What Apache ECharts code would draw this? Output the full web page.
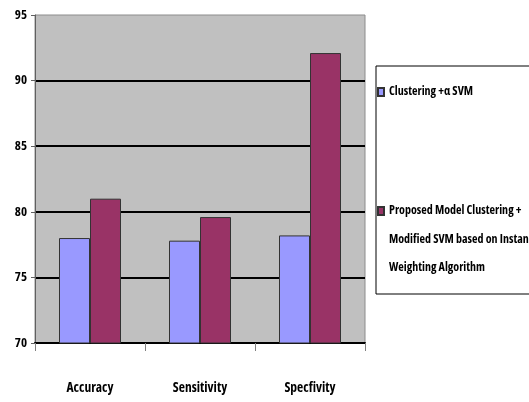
<!DOCTYPE html>
<html>
<head>
<meta charset="utf-8">
<script src="https://cdn.jsdelivr.net/npm/echarts@6/dist/echarts.min.js"></script>
<style>
  html, body { margin: 0; padding: 0; background: #fff; }
  #chart { width: 529px; height: 402px; }
</style>
</head>
<body>
<div id="chart"></div>
<script>
// Evaluation metrics on the x axis
var categories = ['Accuracy', 'Sensitivity', 'Specfivity'];

// Series names and values (%)
var baselineName = 'Clustering +\u03b1 SVM';
var proposedName = 'Proposed Model Clustering +\nModified SVM based on Instance\nWeighting Algorithm';
var baselineValues = [78.0, 77.8, 78.2];
var proposedValues = [81.0, 79.6, 92.1];

// Value axis range
var yMin = 70;
var yMax = 95;
var yStep = 5;

// Narrow bold face: the weight slot also carries the font-stretch keyword
var FONT = '"Open Sans", "DejaVu Sans Condensed", sans-serif';
var WEIGHT = 'bold condensed';
var LINE = 28.5;

var chart = echarts.init(document.getElementById('chart'), null, { renderer: 'canvas' });

chart.setOption({
  backgroundColor: '#ffffff',
  animation: false,
  grid: {
    left: 35,
    right: 164,
    top: 15,
    bottom: 59,
    show: true,
    backgroundColor: '#c0c0c0',
    borderColor: '#8c8c8c',
    borderWidth: 1
  },
  legend: {
    orient: 'vertical',
    left: 376,
    top: 66,
    padding: [19, 0, 11.75, 1],
    itemGap: 40.75,
    itemWidth: 6,
    itemHeight: 8,
    icon: 'rect',
    borderColor: '#000',
    borderWidth: 1,
    // the icon sits level with the first line of a multi-line name
    formatter: function (name) {
      return name.indexOf('\n') >= 0 ? '\n\n' + name : name;
    },
    textStyle: { fontFamily: FONT, fontWeight: WEIGHT, fontSize: 12, color: '#000', overflow: 'none' },
    data: [
      { name: baselineName, textStyle: { lineHeight: 14 } },
      { name: proposedName, textStyle: { lineHeight: LINE } }
    ]
  },
  xAxis: {
    type: 'category',
    data: categories,
    axisLine: { show: true, lineStyle: { color: '#000', width: 2 } },
    axisTick: { show: true, alignWithLabel: false, length: 8, lineStyle: { color: '#808080', width: 1 } },
    axisLabel: { margin: 38, fontFamily: FONT, fontWeight: WEIGHT, fontSize: 13.5, color: '#000' },
    splitLine: { show: false }
  },
  yAxis: {
    type: 'value',
    min: yMin,
    max: yMax,
    interval: yStep,
    axisLine: { show: true, lineStyle: { color: '#606060', width: 1 } },
    axisTick: { show: true, length: 4, lineStyle: { color: '#606060' } },
    axisLabel: { margin: 8, fontFamily: FONT, fontWeight: WEIGHT, fontSize: 13, color: '#000' },
    splitLine: { show: true, showMaxLine: false, lineStyle: { color: '#000', width: 2 } }
  },
  series: [
    {
      name: baselineName,
      type: 'bar',
      data: baselineValues,
      barWidth: 31,
      barGap: '0%',
      itemStyle: { color: '#9999ff', borderColor: '#333', borderWidth: 1 }
    },
    {
      name: proposedName,
      type: 'bar',
      data: proposedValues,
      barWidth: 31,
      barGap: '0%',
      itemStyle: { color: '#993366', borderColor: '#333', borderWidth: 1 }
    }
  ]
});
</script>
</body>
</html>
